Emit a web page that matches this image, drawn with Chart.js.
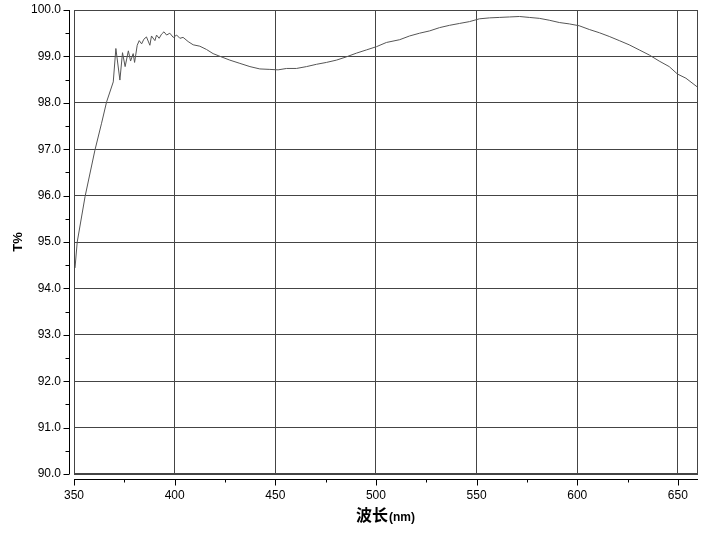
<!DOCTYPE html>
<html>
<head>
<meta charset="utf-8">
<script src="https://cdn.jsdelivr.net/npm/chart.js@4"></script>
<style>
  html, body { margin: 0; padding: 0; background: #fff; }
  #wrap { width: 719px; height: 533px; }
</style>
</head>
<body>
<div id="wrap"><canvas id="tChart" width="719" height="533"></canvas></div>
<script>
// wavelength (nm) and transmittance (T%)
var wavelength = [350.5, 351.6, 355.5, 360.4, 363.7, 366.2, 369.5, 370.8, 372.8, 374.1, 375.4, 377, 378.1, 379.4, 380.1,
  381.4, 382.4, 383.6, 384.7, 386, 387.7, 388.5, 390.2, 391, 392.3, 393.5, 394.7, 396, 397.6, 399.3,
  401, 402.6, 404.2, 406.7, 409.2, 412.5, 415.8, 419.1, 422, 427.4, 432.4, 437.4, 442.3, 447.3,
  451.4, 455.6, 460.5, 465.5, 470.5, 475.4, 480.4, 485.3, 490.3, 495.3, 500.3, 505.2, 511.8, 516.7,
  521.7, 526.7, 531.6, 536.6, 541.5, 546.5, 551.4, 556.4, 561.3, 566.3, 571.3, 576.2, 581.2, 586.1,
  591.1, 596.1, 601, 606, 611, 615.9, 620.9, 625.8, 630.8, 635.8, 640.7, 645.7, 649.8, 654, 660];
var transmittance = [94.44, 95.0, 95.98, 96.98, 97.56, 98.02, 98.45, 99.17, 98.49, 99.08, 98.78, 99.12, 98.9, 99.06, 98.87,
  99.24, 99.34, 99.27, 99.37, 99.42, 99.24, 99.44, 99.34, 99.46, 99.39, 99.48, 99.53, 99.46, 99.5, 99.41,
  99.46, 99.39, 99.41, 99.32, 99.25, 99.22, 99.15, 99.06, 99.01, 98.92, 98.85, 98.78, 98.73, 98.72,
  98.71, 98.74, 98.74, 98.78, 98.83, 98.87, 98.92, 98.99, 99.07, 99.14, 99.21, 99.3, 99.36, 99.44,
  99.5, 99.55, 99.62, 99.67, 99.71, 99.75, 99.81, 99.83, 99.84, 99.85, 99.86, 99.84, 99.82, 99.78,
  99.73, 99.7, 99.66, 99.58, 99.51, 99.43, 99.34, 99.25, 99.14, 99.03, 98.9, 98.78, 98.62, 98.53, 98.33];
var xTicks = [350, 400, 450, 500, 550, 600, 650];
var yTicks = [90, 91, 92, 93, 94, 95, 96, 97, 98, 99, 100];

var points = wavelength.map(function (w, i) { return { x: w, y: transmittance[i] }; });
var tickFont = { family: '"Liberation Sans Narrow", "Liberation Sans", Arial', size: 12 };

// offset axis lines with their tick marks, plot frame and the x title
var frameAxes = {
  id: 'frameAxes',
  afterDraw: function (chart) {
    var c = chart.ctx, a = chart.chartArea;
    var xs = chart.scales.x, ys = chart.scales.y;
    c.save();
    c.lineWidth = 1;
    c.strokeStyle = '#444';
    c.strokeRect(Math.round(a.left) + 0.5, Math.round(a.top) + 0.5,
      Math.round(a.right - a.left) - 1, Math.round(a.bottom - a.top) - 1);

    c.strokeStyle = '#000';
    var ax = Math.round(a.left) - 4.5;
    c.beginPath();
    c.moveTo(ax, a.top);
    c.lineTo(ax, a.bottom);
    for (var v = 90; v <= 100; v += 0.5) {
      var py = Math.round(ys.getPixelForValue(v)) + 0.5;
      c.moveTo(ax, py);
      c.lineTo(ax - (v % 1 === 0 ? 6 : 4), py);
    }
    var ay = Math.round(a.bottom) + 5.5;
    c.moveTo(a.left, ay);
    c.lineTo(a.right, ay);
    for (var w = 350; w <= 660; w += 25) {
      var px = Math.round(xs.getPixelForValue(w)) + 0.5;
      c.moveTo(px, ay);
      c.lineTo(px, ay + (w % 50 === 0 ? 6 : 3));
    }
    c.stroke();

    // x title: 波长 larger, (nm) smaller
    var mid = (a.left + a.right) / 2;
    c.fillStyle = '#000';
    c.textBaseline = 'alphabetic';
    c.font = 'bold 16px "Noto Sans CJK SC"';
    var w1 = c.measureText('波长').width;
    c.font = 'bold 12px "Liberation Sans Narrow", "Liberation Sans", Arial';
    var w2 = c.measureText('(nm)').width;
    var sx = mid - (w1 + w2) / 2 - 1;
    c.font = 'bold 16px "Noto Sans CJK SC"';
    c.fillText('波长', sx, 521);
    c.font = 'bold 12px "Liberation Sans Narrow", "Liberation Sans", Arial';
    c.fillText('(nm)', sx + w1 + 1, 521);
    c.restore();
  }
};

new Chart('tChart', {
  type: 'line',
  data: {
    datasets: [{
      data: points,
      borderColor: '#555',
      borderWidth: 1,
      pointRadius: 0,
      tension: 0,
      fill: false
    }]
  },
  options: {
    responsive: false,
    animation: false,
    events: [],
    layout: { autoPadding: false, padding: { top: 10, right: 21, left: 0, bottom: 0 } },
    plugins: { legend: { display: false }, tooltip: { enabled: false } },
    scales: {
      x: {
        type: 'linear',
        min: 350,
        max: 660,
        afterBuildTicks: function (s) { s.ticks = xTicks.map(function (v) { return { value: v }; }); },
        afterFit: function (s) { s.height = 59; s.paddingLeft = 0; s.paddingRight = 0; },
        grid: { color: '#444', lineWidth: 1, drawTicks: false },
        border: { display: false },
        ticks: { color: '#000', font: tickFont, padding: 14, maxRotation: 0 }
      },
      y: {
        min: 90,
        max: 100,
        afterBuildTicks: function (s) { s.ticks = yTicks.map(function (v) { return { value: v }; }); },
        afterFit: function (s) { s.width = 74; s.paddingTop = 0; s.paddingBottom = 0; },
        grid: { color: '#444', lineWidth: 1, drawTicks: false },
        border: { display: false },
        title: {
          display: true,
          text: 'T%',
          color: '#000',
          font: { family: '"Liberation Sans", Arial', size: 13, weight: 'bold' },
          padding: { top: 11, bottom: 0 }
        },
        ticks: {
          color: '#000',
          font: tickFont,
          padding: 13,
          callback: function (v) { return Number(v).toFixed(1); }
        }
      }
    }
  },
  plugins: [frameAxes]
});
</script>
</body>
</html>
